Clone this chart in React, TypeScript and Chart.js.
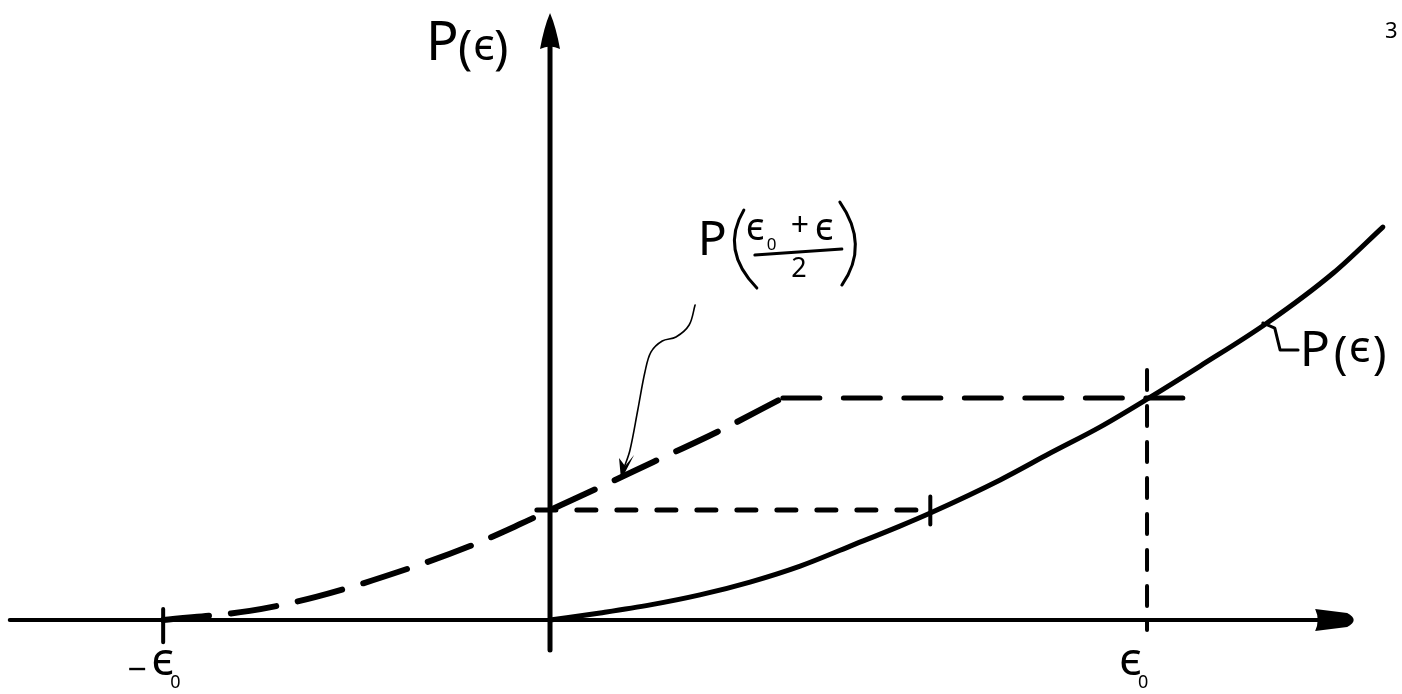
import React, { useEffect, useRef } from "react";
import { Chart, registerables } from "chart.js";

Chart.register(...registerables);

const W = 1402;
const H = 694;

// x in units of ε0 (origin = 0, ε0 = 1); y in units of P(ε0)
const X_MIN = -0.9213;
const X_MAX = 1.4271;
const Y_MIN = -0.3333;
const Y_MAX = 2.7928;

// P(ε) – solid curve
const pX = [0, 0.084, 0.168, 0.251, 0.335, 0.419, 0.503, 0.586, 0.637, 0.754, 0.838, 0.921, 1.0, 1.089, 1.201, 1.312, 1.395];
const pY = [0, 0.032, 0.068, 0.113, 0.171, 0.243, 0.333, 0.423, 0.482, 0.631, 0.752, 0.869, 0.995, 1.144, 1.338, 1.563, 1.77];

// P((ε0+ε)/2) – dashed curve, then flat part
const halfX = [-0.648, -0.503, -0.392, -0.235, -0.134, -0.05, 0, 0.084, 0.173, 0.28, 0.39];
const halfY = [0, 0.041, 0.104, 0.234, 0.333, 0.432, 0.495, 0.599, 0.712, 0.847, 1.0];
const flatX = [0.39, 1.06];
const flatY = [1.0, 1.0];

// construction lines
const midLevelX = [-0.022, 0.637];
const midLevelY = [0.495, 0.495];
const eps0LineX = [1.0, 1.0];
const eps0LineY = [1.126, -0.045];
const markX = [0.637, 0.637];
const markY = [0.556, 0.43];

// axes
const xAxisX = [-0.905, 1.3];
const xAxisY = [0, 0];
const yAxisX = [0, 0];
const yAxisY = [-0.135, 2.6];
const X_ARROW_TIP = 1.352;
const Y_ARROW_TIP = 2.734;

// ticks on the ε axis
const tickValues = [-0.648, 1.0];
const tickPrefix = ["−", ""];
const tickLabels = ["ϵ", "ϵ"];
const tickSubs = ["0", "0"];
const negTickX = [-0.648, -0.648];
const negTickY = [0.05, -0.1];

// leader from the P((ε0+ε)/2) label to the dashed curve
const leaderX = [0.243, 0.233, 0.211, 0.188, 0.169, 0.159, 0.147, 0.134, 0.124];
const leaderY = [1.419, 1.329, 1.275, 1.257, 1.207, 1.117, 0.946, 0.766, 0.685];
const LEADER_TIP = { x: 0.119, y: 0.631 };

// hook from the P(ε) label to the curve
const hookX = [1.194, 1.214, 1.223, 1.253];
const hookY = [1.338, 1.315, 1.216, 1.216];

const pts = (xs: number[], ys: number[]) => xs.map((x, i) => ({ x, y: ys[i] }));

const FONT = '"Noto Sans", "DejaVu Sans", sans-serif';

const sketchPlugin = {
  id: "sketch",
  afterDatasetsDraw(chart: any) {
    const ctx: CanvasRenderingContext2D = chart.ctx;
    const xs = chart.scales.x;
    const ys = chart.scales.y;
    const X = (v: number) => xs.getPixelForValue(v);
    const Y = (v: number) => ys.getPixelForValue(v);
    ctx.save();
    ctx.fillStyle = "#000";
    ctx.strokeStyle = "#000";
    ctx.lineCap = "round";
    ctx.lineJoin = "round";

    // y-axis arrowhead
    const ax = X(0);
    const ty = Y(Y_ARROW_TIP);
    ctx.beginPath();
    ctx.moveTo(ax, ty);
    ctx.quadraticCurveTo(ax + 6, ty + 14, ax + 10, ty + 36);
    ctx.quadraticCurveTo(ax, ty + 31, ax - 10, ty + 36);
    ctx.quadraticCurveTo(ax - 6, ty + 14, ax, ty);
    ctx.closePath();
    ctx.fill();

    // x-axis arrowhead
    const tx = X(X_ARROW_TIP);
    const ay = Y(0);
    const bx = tx - 42;
    ctx.beginPath();
    ctx.moveTo(bx, ay - 11);
    ctx.lineTo(tx - 10, ay - 7);
    ctx.quadraticCurveTo(tx + 3, ay, tx - 10, ay + 7);
    ctx.lineTo(bx, ay + 11);
    ctx.quadraticCurveTo(bx + 5, ay, bx, ay - 11);
    ctx.closePath();
    ctx.fill();

    // leader arrowhead
    const lx = X(LEADER_TIP.x);
    const ly = Y(LEADER_TIP.y);
    ctx.beginPath();
    ctx.moveTo(lx, ly);
    ctx.lineTo(lx - 2, ly - 22);
    ctx.lineTo(lx + 4, ly - 14);
    ctx.lineTo(lx + 13, ly - 25);
    ctx.closePath();
    ctx.fill();

    const text = (s: string, x: number, y: number, size: number, align: CanvasTextAlign = "left") => {
      ctx.font = `${size}px ${FONT}`;
      ctx.textAlign = align;
      ctx.textBaseline = "alphabetic";
      ctx.fillText(s, x, y);
    };

    // tick labels −ε0 and ε0
    const labelBase = Y(0) + 55;
    tickValues.forEach((v, i) => {
      const px = X(v);
      const left = i === 0 ? px - 12 : px - 28;
      if (tickPrefix[i]) text(tickPrefix[i], left - 24, labelBase + 6, 34);
      text(tickLabels[i], left, labelBase, 46);
      text(tickSubs[i], left + 19, labelBase + 13, 18);
    });

    // y-axis title P(ε)
    const yx = X(0);
    const yb = Y(0) - 560;
    text("P", yx - 124, yb, 54);
    text("(", yx - 92, yb + 4, 48);
    text("ϵ", yx - 77, yb, 44);
    text(")", yx - 56, yb + 4, 48);

    // curve label P(ε)
    const cx = X(1.256);
    const cb = Y(1.144);
    text("P", cx, cb, 50);
    text("(", cx + 34, cb + 3, 46);
    text("ϵ", cx + 49, cb - 4, 44);
    text(")", cx + 73, cb + 3, 46);

    // label P((ε0+ε)/2)
    const fx = X(0.251);
    const fy = Y(1.644);
    text("P", fx - 2, fy, 48);
    ctx.lineWidth = 3;
    ctx.beginPath();
    ctx.moveTo(fx + 44, fy - 45);
    ctx.quadraticCurveTo(fx + 20, fy - 5, fx + 57, fy + 33);
    ctx.stroke();
    ctx.beginPath();
    ctx.moveTo(fx + 140, fy - 53);
    ctx.quadraticCurveTo(fx + 170, fy - 10, fx + 142, fy + 30);
    ctx.stroke();
    text("ϵ", fx + 46, fy - 15, 38);
    text("0", fx + 67, fy - 5, 17);
    text("+", fx + 100, fy - 19, 32, "center");
    text("ϵ", fx + 115, fy - 15, 38);
    ctx.beginPath();
    ctx.moveTo(fx + 55, fy);
    ctx.lineTo(fx + 142, fy - 6);
    ctx.stroke();
    text("2", fx + 99, fy + 22, 27, "center");

    // page number
    text("3", W - 17, 38, 22);

    ctx.restore();
  },
};

export default function App() {
  const ref = useRef<HTMLCanvasElement>(null);

  useEffect(() => {
    document.body.style.margin = "0";
    const line = (data: any[], extra: any = {}) => ({
      data,
      showLine: true,
      pointRadius: 0,
      borderColor: "#000",
      borderWidth: 5,
      borderCapStyle: "round",
      borderJoinStyle: "round",
      fill: false,
      ...extra,
    });
    const chart = new Chart(ref.current!, {
      type: "scatter",
      data: {
        datasets: [
          line(pts(xAxisX, xAxisY), { borderWidth: 4 }),
          line(pts(yAxisX, yAxisY), { borderWidth: 5 }),
          line(pts(negTickX, negTickY), { borderWidth: 4 }),
          line(pts(pX, pY), { cubicInterpolationMode: "monotone" }),
          line(pts(halfX, halfY), { cubicInterpolationMode: "monotone", borderWidth: 6, borderDash: [46, 22] }),
          line(pts(flatX, flatY), { borderWidth: 5, borderDash: [37, 23.5] }),
          line(pts(midLevelX, midLevelY), { borderWidth: 5, borderDash: [19, 21] }),
          line(pts(eps0LineX, eps0LineY), { borderWidth: 4, borderDash: [20, 16] }),
          line(pts(markX, markY), { borderWidth: 4 }),
          line(pts(leaderX, leaderY), { borderWidth: 1.6, tension: 0.35 }),
          line(pts(hookX, hookY), { borderWidth: 3 }),
        ],
      },
      options: {
        responsive: false,
        animation: false,
        devicePixelRatio: 1,
        layout: { padding: 0 },
        scales: {
          x: { type: "linear", min: X_MIN, max: X_MAX, display: false },
          y: { type: "linear", min: Y_MIN, max: Y_MAX, display: false },
        },
        plugins: {
          legend: { display: false },
          tooltip: { enabled: false },
        },
      },
      plugins: [sketchPlugin],
    } as any);
    return () => chart.destroy();
  }, []);

  return <canvas ref={ref} width={W} height={H} style={{ display: "block" }} />;
}
